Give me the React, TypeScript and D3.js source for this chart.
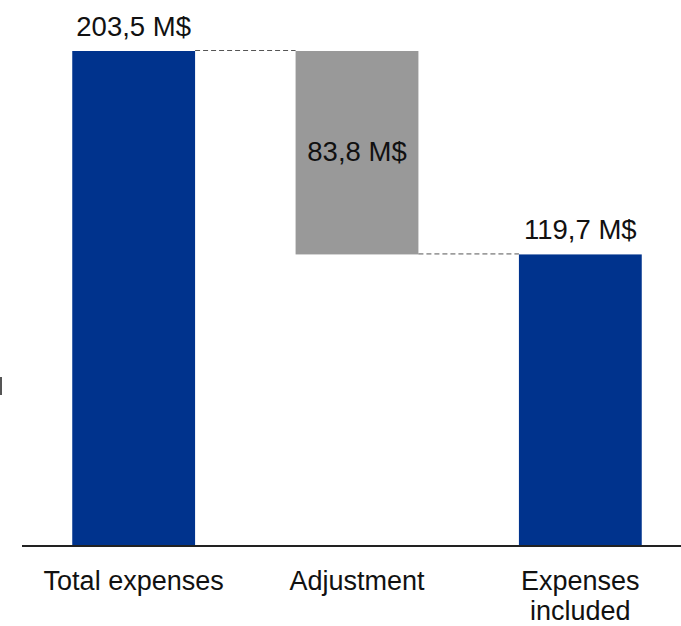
import * as d3 from "d3";

// Waterfall data
const categories = ["Total expenses", "Adjustment", "Expenses included"];
const categoryLines = [["Total expenses"], ["Adjustment"], ["Expenses", "included"]];
const startValues = [0, 119.7, 0];
const endValues = [203.5, 203.5, 119.7];
const valueLabels = ["203,5 M$", "83,8 M$", "119,7 M$"];
const barKinds = ["total", "delta", "total"];

const W = 681;
const H = 626;
const FONT = "'Liberation Sans', Arial, sans-serif";

export default function App() {
  const x = d3
    .scaleBand<string>()
    .domain(categories)
    .range([22, 692])
    .paddingInner(0.45)
    .paddingOuter(0.225);
  const y = d3.scaleLinear().domain([0, 203.5]).range([545, 51]);
  const bw = x.bandwidth();

  const color = (k: string) => (k === "total" ? "#00338D" : "#999999");

  // running level after each bar (top of a total, bottom of a decrease)
  const levelAfter = (i: number) =>
    barKinds[i] === "total" ? endValues[i] : startValues[i];

  return (
    <svg
      width={W}
      height={H}
      style={{ position: "absolute", left: 0, top: 0, background: "#fff" }}
    >
      {/* clipped axis title remnant at the left edge */}
      <line x1={1} x2={1} y1={377} y2={395} stroke="#555" strokeWidth={2} />

      {categories.map((c, i) => {
        const x0 = x(c)!;
        const top = y(Math.max(startValues[i], endValues[i]));
        const bot = y(Math.min(startValues[i], endValues[i]));
        return (
          <rect
            key={c}
            x={x0}
            y={top}
            width={bw}
            height={bot - top}
            fill={color(barKinds[i])}
          />
        );
      })}

      {/* connectors */}
      {categories.slice(0, -1).map((c, i) => {
        const next = categories[i + 1];
        const ly = y(levelAfter(i)) - 0.5;
        return (
          <line
            key={"c" + i}
            x1={x(c)! + bw}
            x2={x(next)!}
            y1={ly}
            y2={ly}
            stroke="#555"
            strokeWidth={1}
            strokeDasharray="5,3"
          />
        );
      })}

      {/* axis baseline */}
      <line x1={22} x2={W} y1={y(0) + 1} y2={y(0) + 1} stroke="#222" strokeWidth={2} />

      {/* value labels */}
      {categories.map((c, i) => {
        const cx = x(c)! + bw / 2;
        const top = y(Math.max(startValues[i], endValues[i]));
        const bot = y(Math.min(startValues[i], endValues[i]));
        const inside = barKinds[i] === "delta";
        const ty = inside ? (top + bot) / 2 + 8 : top - 15;
        return (
          <text
            key={"v" + i}
            x={cx}
            y={ty}
            textAnchor="middle"
            fontFamily={FONT}
            fontSize={27.5}
            fill="#111"
          >
            {valueLabels[i]}
          </text>
        );
      })}

      {/* category labels */}
      {categories.map((c, i) => (
        <text
          key={"l" + i}
          x={x(c)! + bw / 2}
          y={590}
          textAnchor="middle"
          fontFamily={FONT}
          fontSize={27}
          fill="#111"
        >
          {categoryLines[i].map((ln, j) => (
            <tspan key={j} x={x(c)! + bw / 2} dy={j === 0 ? 0 : 30}>
              {ln}
            </tspan>
          ))}
        </text>
      ))}
    </svg>
  );
}
